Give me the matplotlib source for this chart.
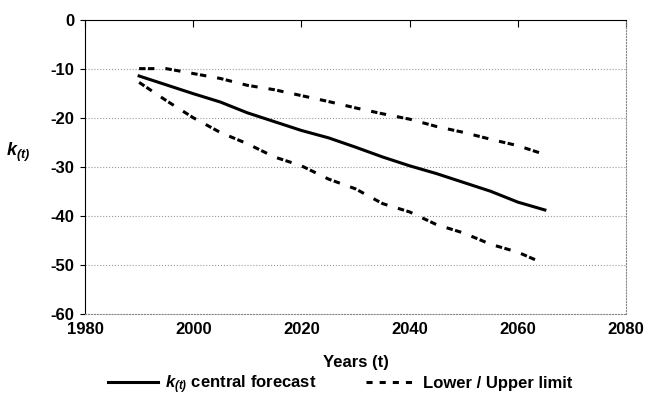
import matplotlib
matplotlib.use('Agg')
import matplotlib.pyplot as plt
from matplotlib.lines import Line2D

plt.rcParams['font.family'] = ['Liberation Sans', 'DejaVu Sans']
plt.rcParams['font.weight'] = 'bold'
plt.rcParams['axes.unicode_minus'] = False
plt.rcParams['mathtext.fontset'] = 'custom'
plt.rcParams['mathtext.it'] = 'Liberation Sans:bold:italic'
plt.rcParams['mathtext.rm'] = 'Liberation Sans:bold:italic'

# forecast years and k(t) values
years = [1990, 1995, 2000, 2005, 2010, 2015, 2020, 2025, 2030,
         2035, 2040, 2045, 2050, 2055, 2060, 2065]
central = [-11.5, -13.3, -15.1, -16.8, -19.0, -20.8, -22.6, -24.1, -26.0,
           -28.0, -29.8, -31.4, -33.2, -35.0, -37.2, -38.8]
upper = [-10.0, -10.0, -11.0, -12.0, -13.4, -14.3, -15.5, -16.7, -18.0,
         -19.2, -20.3, -21.8, -23.0, -24.4, -25.7, -27.5]
lower = [-12.8, -16.5, -20.0, -23.0, -25.3, -28.0, -29.8, -32.5, -34.5,
         -37.5, -39.2, -41.8, -43.5, -45.8, -47.4, -49.8]

fig = plt.figure(figsize=(6.49, 3.99), dpi=100)
ax = fig.add_axes([0.131, 0.213, 0.8336, 0.738])

lw = 2.2
dash_style = (0, (2.1, 0.8, 2.1, 3.6))
ax.plot(years, central, color='black', lw=lw)
ax.plot(years, lower, color='black', lw=lw, linestyle=dash_style)
ax.plot(years, upper, color='black', lw=lw, linestyle=dash_style)

ax.set_xlim(1980, 2080)
ax.set_ylim(-60, 0)
ax.set_xticks(range(1980, 2081, 20))
ax.set_yticks(range(-60, 1, 10))
ax.grid(axis='y', color='#999999', linestyle=':', lw=0.8)

# Excel-like axes: x axis crosses at top with inward ticks, labels at bottom
ax.spines['top'].set_color('black')
ax.spines['left'].set_color('black')
ax.spines['bottom'].set_color('#888888')
ax.spines['right'].set_color('#888888')
ax.spines['bottom'].set_linestyle(':')
ax.spines['right'].set_linestyle(':')
ax.tick_params(axis='x', top=True, bottom=False, direction='in', length=5,
               labelsize=12, pad=6)
ax.tick_params(axis='y', direction='out', length=3.5, labelsize=12, pad=4)
for lbl in ax.get_xticklabels() + ax.get_yticklabels():
    lbl.set_fontweight('bold')

ax.set_xlabel('Years (t)', fontsize=12, fontweight='bold', labelpad=13)
ax.set_ylabel(r'$k_{(t)}$', fontsize=13, rotation=0)
ax.yaxis.set_label_coords(-0.123, 0.51)

handles = [Line2D([], [], color='black', lw=lw),
           Line2D([], [], color='black', lw=lw, linestyle=(0, (2.0, 2.3)))]
labels = [r'$k_{(t)}$ central forecast', 'Lower / Upper limit']
fig.legend(handles, labels, loc='center', bbox_to_anchor=(0.524, 0.036), ncol=2,
           frameon=False, prop={'size': 12, 'weight': 'bold'},
           handlelength=3.0, handletextpad=0.4, columnspacing=3.0,
           borderpad=0.2)

fig.savefig('out.png', dpi=100)
